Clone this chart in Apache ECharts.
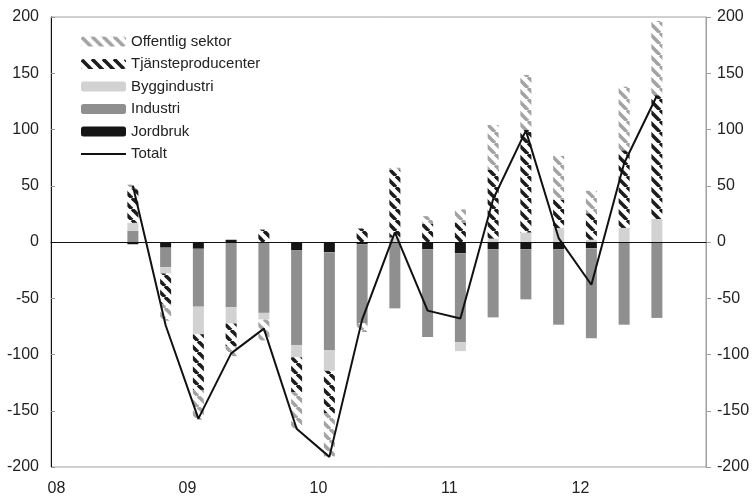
<!DOCTYPE html>
<html>
<head>
    <meta charset="utf-8">
    <title>Bidrag per sektor</title>
    <script src="https://cdn.jsdelivr.net/npm/echarts@6/dist/echarts.min.js"></script>
    <style>
        body { margin: 0; background: #fff; }
    </style>
</head>
<body>
<div id="main" style="width: 753px;height:497px;"></div>
<script type="text/javascript">
    // kvartal 2008K1 - 2012K4
    var kvartal = ['08K1', '08K2', '08K3', '08K4', '09K1', '09K2', '09K3', '09K4',
        '10K1', '10K2', '10K3', '10K4', '11K1', '11K2', '11K3', '11K4',
        '12K1', '12K2', '12K3', '12K4'];

    var jordbruk = [null, null, -2, -5, -6, 2, 0, -7.5, -9, -2, 0, -6.5, -10, -6.5, -6.5, -6.5, -5.5, 0, 0, null];
    var industri = [null, null, 10, -17.5, -51.5, -58, -63, -84, -87, -70, -59, -78, -79, -60.5, -44.5, -67, -80, -73.5, -67.5, null];
    var bygg = [null, null, 7, -5.5, -24.5, -14.5, -6, -11, -18.5, 0, 4, 0, -8, 3, 8.5, 12.5, 2, 12.5, 20.5, null];
    var tjanste = [null, null, 30, -27, -49.5, -20, 11, -31, -37.5, 12, 60, 16, 17, 61, 91, 25, 23.5, 69, 110, null];
    var offentlig = [null, null, 4, -15, -26.5, -9, -18.5, -32, -38.5, -8, 2, 7, 12, 40, 49, 39, 20, 56.5, 66, null];
    var totalt = [null, null, 50, -74, -157, -99, -77, -166, -191, -69, 8.5, -61, -68, 38, 99, 3.5, -38, 70, 130, null];

    var font = '"Liberation Sans", Arial, sans-serif';

    // randigt mönster "\"
    function stripes(color) {
        var c = document.createElement('canvas');
        var s = 11;
        c.width = c.height = s;
        var ctx = c.getContext('2d');
        ctx.fillStyle = '#fff';
        ctx.fillRect(0, 0, s, s);
        ctx.strokeStyle = color;
        ctx.lineWidth = 3.6;
        [-s, 0, s].forEach(function (k) {
            ctx.beginPath();
            ctx.moveTo(k, 0);
            ctx.lineTo(k + s, s);
            ctx.stroke();
        });
        return c;
    }

    var myChart = echarts.init(document.getElementById('main'));

    var barBase = {
        type: 'bar',
        stack: 'total',
        barWidth: 11
    };

    var yearTick = function (index) { return index % 4 === 0; };

    option = {
        backgroundColor: '#fff',
        animation: false,
        textStyle: { fontFamily: font },
        grid: {
            left: 51,
            right: 47,
            top: 17,
            bottom: 30,
            show: true,
            borderColor: '#a0a0a0',
            borderWidth: 1
        },
        legend: {
            orient: 'vertical',
            left: 75,
            top: 29,
            itemWidth: 45,
            itemHeight: 10,
            itemGap: 7.5,
            textStyle: { fontFamily: font, fontSize: 15, color: '#222' },
            data: ['Offentlig sektor', 'Tjänsteproducenter', 'Byggindustri', 'Industri', 'Jordbruk',
                { name: 'Totalt', itemStyle: { color: 'rgba(0,0,0,0)', opacity: 0 } }]
        },
        xAxis: [{
            type: 'category',
            data: kvartal,
            position: 'bottom',
            axisLine: { show: false, onZero: false },
            axisTick: { show: false },
            axisLabel: {
                interval: yearTick,
                formatter: function (v) { return v.slice(0, 2); },
                fontSize: 16,
                color: '#222',
                margin: 14,
                padding: [0, 22, 0, 0]
            },
            splitLine: { show: false }
        }, {
            type: 'category',
            data: kvartal,
            position: 'bottom',
            z: 5,
            axisLine: { onZero: true, lineStyle: { color: '#111', width: 1 } },
            axisTick: { interval: yearTick, inside: true, length: 6, lineStyle: { color: '#888' } },
            axisLabel: { show: false },
            splitLine: { show: false }
        }, {
            type: 'category',
            data: kvartal,
            position: 'bottom',
            z: 5,
            axisLine: { show: false, onZero: true },
            axisTick: { interval: yearTick, inside: false, length: 6, lineStyle: { color: '#888' } },
            axisLabel: { show: false },
            splitLine: { show: false }
        }],
        yAxis: [{
            type: 'value',
            position: 'left',
            min: -200,
            max: 200,
            interval: 50,
            axisLine: { show: true, lineStyle: { color: '#111' } },
            axisTick: { show: true, inside: true, length: 4, lineStyle: { color: '#999' } },
            axisLabel: { fontSize: 16, color: '#222', margin: 12 },
            splitLine: { show: false }
        }, {
            type: 'value',
            position: 'right',
            min: -200,
            max: 200,
            interval: 50,
            axisLine: { show: true, lineStyle: { color: '#a0a0a0' } },
            axisTick: { show: true, inside: false, length: 5, lineStyle: { color: '#a0a0a0' } },
            axisLabel: { fontSize: 16, color: '#222', margin: 11 },
            splitLine: { show: false }
        }],
        series: [
            Object.assign({}, barBase, {
                name: 'Jordbruk',
                itemStyle: { color: '#151515' },
                data: jordbruk
            }),
            Object.assign({}, barBase, {
                name: 'Industri',
                itemStyle: { color: '#8f8f8f' },
                data: industri
            }),
            Object.assign({}, barBase, {
                name: 'Byggindustri',
                itemStyle: { color: '#d2d2d2' },
                data: bygg
            }),
            Object.assign({}, barBase, {
                name: 'Tjänsteproducenter',
                itemStyle: { color: { image: stripes('#1c1c1c'), repeat: 'repeat' } },
                data: tjanste
            }),
            Object.assign({}, barBase, {
                name: 'Offentlig sektor',
                itemStyle: { color: { image: stripes('#a3a3a3'), repeat: 'repeat' } },
                data: offentlig
            }),
            {
                name: 'Totalt',
                type: 'line',
                z: 10,
                symbol: 'none',
                lineStyle: { color: '#111', width: 2 },
                itemStyle: { color: '#111' },
                data: totalt
            }
        ]
    };

    myChart.setOption(option);
</script>
</body>
</html>
